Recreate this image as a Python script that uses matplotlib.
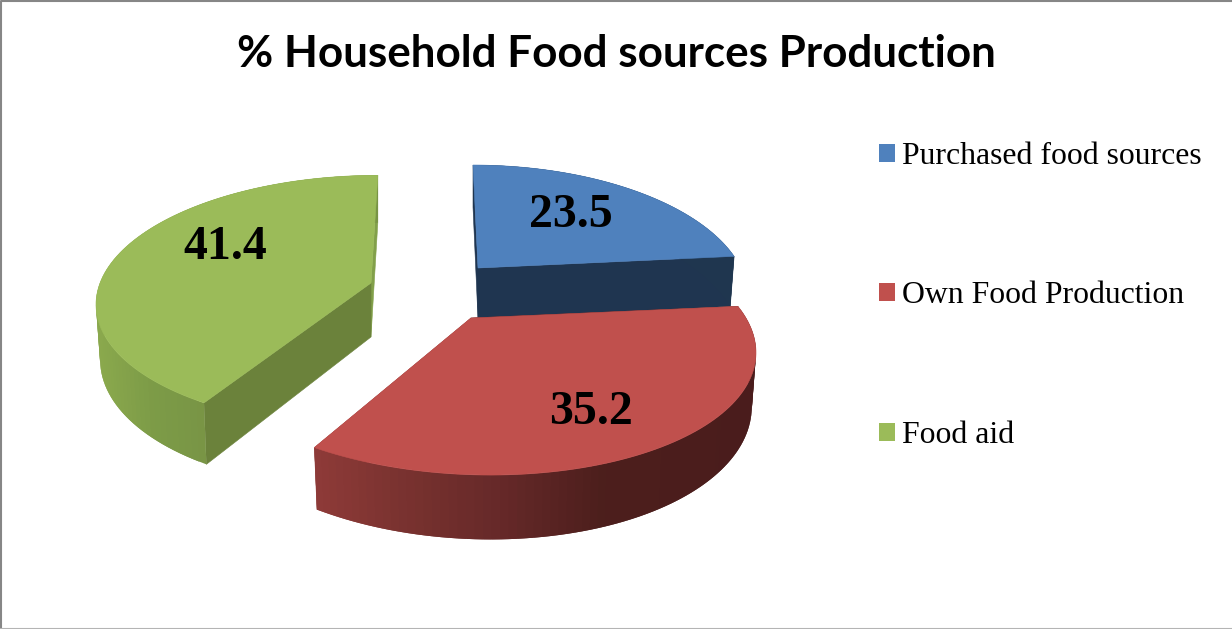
import numpy as np
import matplotlib
matplotlib.use("Agg")
import matplotlib.pyplot as plt
from matplotlib.patches import Polygon, Patch

# Chart data
categories = ["Purchased food sources", "Own Food Production", "Food aid"]
values = [23.5, 35.2, 41.4]
title = "% Household Food sources Production"

# Slice styling and exploded apex positions (canvas pixels)
top_colors = ["#4f81bd", "#c0504d", "#9bbb59"]
start_cut_colors = ["#1f3550", "#4f1f1e", "#6b823b"]
end_cut_colors = ["#1f3550", "#8f3c3a", "#82a04a"]
apexes = [(478, 268), (471, 318), (371, 283)]
label_positions = [(571, 211), (591, 408), (225, 243)]
rim_x = [[450, 740], [312, 420, 500, 600, 750], [100, 150, 210]]
rim_r = [[0.12, 0.12], [0.56, 0.46, 0.40, 0.30, 0.29], [0.54, 0.49, 0.47]]
rim_g = [[0.21, 0.21], [0.23, 0.19, 0.16, 0.12, 0.11], [0.66, 0.61, 0.58]]
rim_b = [[0.31, 0.31], [0.22, 0.18, 0.16, 0.11, 0.11], [0.30, 0.28, 0.27]]

# Perspective projection of each tilted, exploded slice
widths = [263, 275, 271]
heights = [124.4, 124.4, 123]
foreshortening = [0.208, 0.208, 0.142]
depths = [51, 51, 54]
leans = [29, 75, -55]
BOTTOM_SCALE = 0.985


def project(i, theta, radius=1.0, level=0):
    """Map a pie-plane point (clockwise angle from 12 o'clock) to the canvas."""
    X = radius * np.sin(theta)
    Y = radius * np.cos(theta)
    w = 1 + foreshortening[i] * Y
    scale = BOTTOM_SCALE if level else 1.0
    x = apexes[i][0] + scale * widths[i] * X / w + leans[i] * (1 / w - 1) * radius
    y = apexes[i][1] - heights[i] * Y / w + level * depths[i] / w
    return np.column_stack([np.atleast_1d(x), np.atleast_1d(y)])


fig = plt.figure(figsize=(12.32, 6.29), dpi=100)
ax = fig.add_axes([0, 0, 1, 1])
ax.set_xlim(0, 1232)
ax.set_ylim(629, 0)
ax.axis("off")

fractions = np.array(values) / np.sum(values)
edges = np.concatenate([[0], np.cumsum(fractions)]) * 2 * np.pi

# Back slices are painted first so the nearer ones overlap them
for i in [0, 2, 1]:
    th = np.linspace(edges[i], edges[i + 1], 90)
    top = project(i, th)
    bottom = project(i, th, level=1)
    c_top = project(i, 0.0, 0.0)
    c_bot = project(i, 0.0, 0.0, level=1)

    # Flat cut faces
    for idx, col in ((-1, end_cut_colors[i]), (0, start_cut_colors[i])):
        ax.add_patch(Polygon(np.vstack([c_top, top[idx], bottom[idx], c_bot]),
                             closed=True, fc=col, ec=col, lw=0.4))

    # Curved outer wall shaded by horizontal position; each band overlaps the next
    for j in range(len(th) - 1):
        k = min(j + 2, len(th) - 1)
        xm = 0.5 * (top[j, 0] + top[j + 1, 0])
        col = (np.interp(xm, rim_x[i], rim_r[i]),
               np.interp(xm, rim_x[i], rim_g[i]),
               np.interp(xm, rim_x[i], rim_b[i]))
        quad = np.vstack([top[j], top[k], bottom[k], bottom[j]])
        ax.add_patch(Polygon(quad, closed=True, fc=col, ec="none", lw=0))

    # Upper face
    ax.add_patch(Polygon(np.vstack([c_top, top]), closed=True,
                         fc=top_colors[i], ec=top_colors[i], lw=0.4))

# Value labels
for v, (x, y) in zip(values, label_positions):
    ax.text(x, y + 4, f"{v:.1f}", ha="center", va="center", fontsize=34.5,
            fontweight="bold", family="Liberation Serif", color="black")

ax.text(616.5, 54, title, ha="center", va="center", fontsize=31.7,
        fontweight="bold", family="Lato", color="black")

handles = [Patch(fc=c, ec="none") for c in top_colors]
leg = ax.legend(handles, categories, frameon=False, loc="upper left",
                bbox_to_anchor=(879, 142), bbox_transform=ax.transData,
                prop={"family": "Liberation Serif", "size": 22.85},
                labelspacing=3.48, handlelength=0.5, handleheight=0.5,
                handletextpad=0.22, borderpad=0, borderaxespad=0)
for t in leg.get_texts():
    t.set_color("black")

# Chart frame
ax.plot([1, 1, 1232], [629, 0.5, 0.5], color="#868686", lw=1.5, clip_on=True)
ax.plot([0, 1232], [628.5, 628.5], color="#b4b4b4", lw=1.5)

fig.savefig("out.png", dpi=100, facecolor="white")
